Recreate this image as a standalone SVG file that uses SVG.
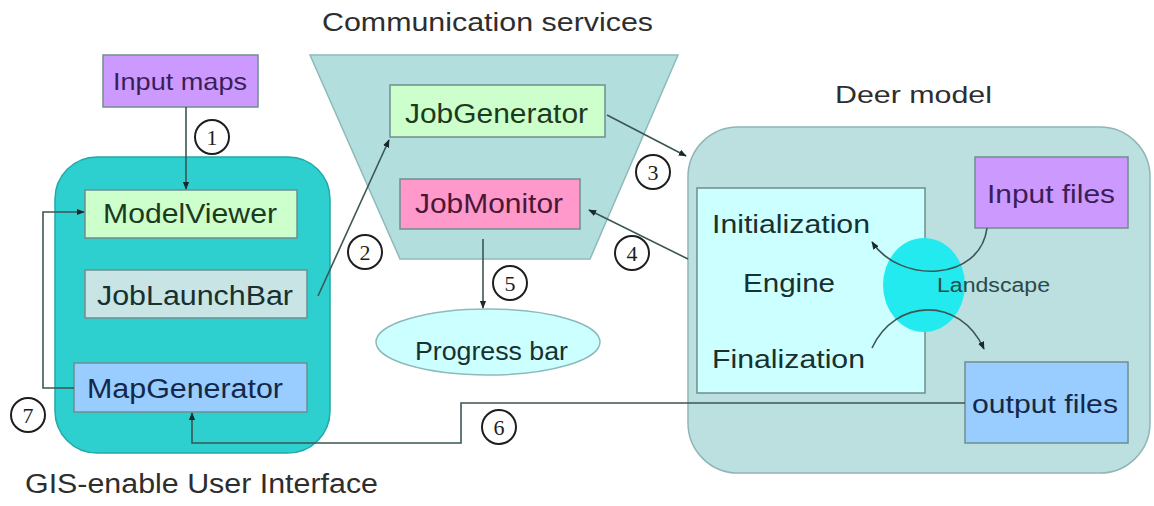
<svg xmlns="http://www.w3.org/2000/svg" width="1154" height="506" viewBox="0 0 1154 506">
  <style>
    text { font-family: "Liberation Sans", Arial, sans-serif; }
    .title { font-size: 25px; fill: #2e2e2e; }
    .lbl { font-size: 27px; fill: #173030; }
    .num { font-family: "Liberation Serif", "Times New Roman", serif; font-size: 22px; fill: #1e1e1e; text-anchor: middle; }
    .badge { fill: #ffffff; stroke: #1e1e1e; stroke-width: 2; }
    .box { stroke: #6f8f8f; stroke-width: 1.5; }
    .wire-end { fill: none; stroke: #3c5656; stroke-width: 1.6; marker-end: url(#tip); }
  </style>
  <defs>
    <marker id="tip" viewBox="0 0 10 10" refX="9" refY="5" markerWidth="5" markerHeight="5" orient="auto" markerUnits="strokeWidth">
      <path d="M0,1 L10,5 L0,9 z" fill="#1a2a2a"/>
    </marker>
  </defs>

  <rect width="1154" height="506" fill="#ffffff"/>

  <!-- Communication services -->
  <g id="comm">
    <text class="title" x="322" y="31" textLength="331" lengthAdjust="spacingAndGlyphs">Communication services</text>
    <polygon points="310,55 678,55 590,259 400,259" fill="#b3dede" stroke="#8fbaba" stroke-width="1.5"/>
  </g>
  <g id="jobgenerator">
    <rect class="box" x="390" y="85" width="215" height="52" fill="#ccffcc"/>
    <text class="lbl" x="405" y="123" textLength="183" lengthAdjust="spacingAndGlyphs" style="fill:#1c3a1c">JobGenerator</text>
  </g>
  <g id="jobmonitor">
    <rect class="box" x="400" y="179" width="180" height="50" fill="#ff99cc"/>
    <text class="lbl" x="415" y="213" textLength="148" lengthAdjust="spacingAndGlyphs" style="fill:#4a1834">JobMonitor</text>
  </g>
  <g id="progressbar">
    <ellipse cx="488" cy="342" rx="112" ry="33" fill="#ccffff" stroke="#8fbaba" stroke-width="1.5"/>
    <text class="lbl" x="415" y="360" textLength="153" lengthAdjust="spacingAndGlyphs" style="font-size:25px">Progress bar</text>
  </g>

  <!-- GIS-enable User Interface -->
  <g id="inputmaps">
    <rect class="box" x="103" y="55" width="155" height="52" fill="#cc99ff" stroke="#9a78c0"/>
    <text class="lbl" x="113" y="90" textLength="134" lengthAdjust="spacingAndGlyphs" style="font-size:24px;fill:#3a1e58">Input maps</text>
  </g>
  <g id="gis">
    <rect x="55" y="157" width="275" height="296" rx="42" ry="42" fill="#2ecfcf" stroke="#22a8a8" stroke-width="1.5"/>
    <text class="title" x="25" y="493" textLength="353" lengthAdjust="spacingAndGlyphs" style="font-size:27px">GIS-enable User Interface</text>
  </g>
  <g id="modelviewer">
    <rect class="box" x="85" y="190" width="212" height="48" fill="#ccffcc"/>
    <text class="lbl" x="103" y="223" textLength="174" lengthAdjust="spacingAndGlyphs" style="fill:#1c3a1c">ModelViewer</text>
  </g>
  <g id="joblaunchbar">
    <rect class="box" x="85" y="270" width="222" height="48" fill="#c8e4e4"/>
    <text class="lbl" x="97" y="305" textLength="196" lengthAdjust="spacingAndGlyphs">JobLaunchBar</text>
  </g>
  <g id="mapgenerator">
    <rect class="box" x="74" y="363" width="233" height="49" fill="#99ccff"/>
    <text class="lbl" x="87" y="398" textLength="196" lengthAdjust="spacingAndGlyphs" style="fill:#142848">MapGenerator</text>
  </g>

  <!-- Deer model -->
  <g id="deer">
    <text class="title" x="835" y="103" textLength="157" lengthAdjust="spacingAndGlyphs" style="font-size:24px">Deer model</text>
    <rect x="688" y="127" width="462" height="346" rx="50" ry="50" fill="#bcdfdf" stroke="#8fb6b6" stroke-width="1.5"/>
  </g>
  <g id="engine">
    <rect class="box" x="697" y="188" width="228" height="205" fill="#ccffff" stroke="#8fb0b0"/>
    <text class="lbl" x="712" y="233" textLength="158" lengthAdjust="spacingAndGlyphs" style="font-size:26px">Initialization</text>
    <text class="lbl" x="743" y="292" textLength="92" lengthAdjust="spacingAndGlyphs" style="font-size:26px">Engine</text>
    <text class="lbl" x="712" y="368" textLength="153" lengthAdjust="spacingAndGlyphs" style="font-size:26px">Finalization</text>
  </g>
  <g id="landscape">
    <ellipse cx="924" cy="285" rx="41" ry="47" fill="#22eaee"/>
    <text class="lbl" x="937" y="292" textLength="113" lengthAdjust="spacingAndGlyphs" style="font-size:20px;fill:#2a4a4a">Landscape</text>
  </g>
  <g id="inputfiles">
    <rect class="box" x="975" y="157" width="153" height="71" fill="#cc99ff" stroke="#9a78c0"/>
    <text class="lbl" x="987" y="203" textLength="128" lengthAdjust="spacingAndGlyphs" style="font-size:26px;fill:#3a1e58">Input files</text>
  </g>
  <g id="outputfiles">
    <rect class="box" x="965" y="362" width="163" height="81" fill="#99ccff"/>
    <text class="lbl" x="972" y="413" textLength="146" lengthAdjust="spacingAndGlyphs" style="font-size:26px;fill:#142848">output files</text>
  </g>

  <!-- connectors -->
  <g id="connectors">
    <!-- 1: Input maps to ModelViewer -->
    <path class="wire-end" d="M186,107 L186,189"/>
    <!-- 2: JobLaunchBar to JobGenerator -->
    <path class="wire-end" d="M318,296 L389,140"/>
    <!-- 3: JobGenerator to Deer model -->
    <path class="wire-end" d="M607,115 L686,156"/>
    <!-- 4: Deer model to JobMonitor -->
    <path class="wire-end" d="M688,259 L589,210"/>
    <!-- 5: JobMonitor to Progress bar -->
    <path class="wire-end" d="M483,239 L483,308"/>
    <!-- 6: output files to MapGenerator -->
    <path class="wire-end" d="M965,403 L461,403 L461,443 L192,443 L192,413"/>
    <!-- 7: MapGenerator back to ModelViewer -->
    <path class="wire-end" d="M74,388 L43,388 L43,212 L84,212"/>
    <!-- Input files through Landscape to Initialization -->
    <path class="wire-end" d="M987,228 C980,282 900,284 872,242"/>
    <!-- Finalization through Landscape to output files -->
    <path class="wire-end" d="M872,348 C895,298 960,296 984,349"/>

    <circle class="badge" cx="212" cy="137" r="17"/>
    <text class="num" x="212" y="145">1</text>
    <circle class="badge" cx="365" cy="252" r="17"/>
    <text class="num" x="365" y="260">2</text>
    <circle class="badge" cx="653" cy="172" r="17"/>
    <text class="num" x="653" y="180">3</text>
    <circle class="badge" cx="632" cy="253" r="17"/>
    <text class="num" x="632" y="261">4</text>
    <circle class="badge" cx="510" cy="283" r="17"/>
    <text class="num" x="510" y="291">5</text>
    <circle class="badge" cx="499" cy="427" r="17"/>
    <text class="num" x="499" y="435">6</text>
    <circle class="badge" cx="28" cy="415" r="17"/>
    <text class="num" x="28" y="423">7</text>
  </g>
</svg>
